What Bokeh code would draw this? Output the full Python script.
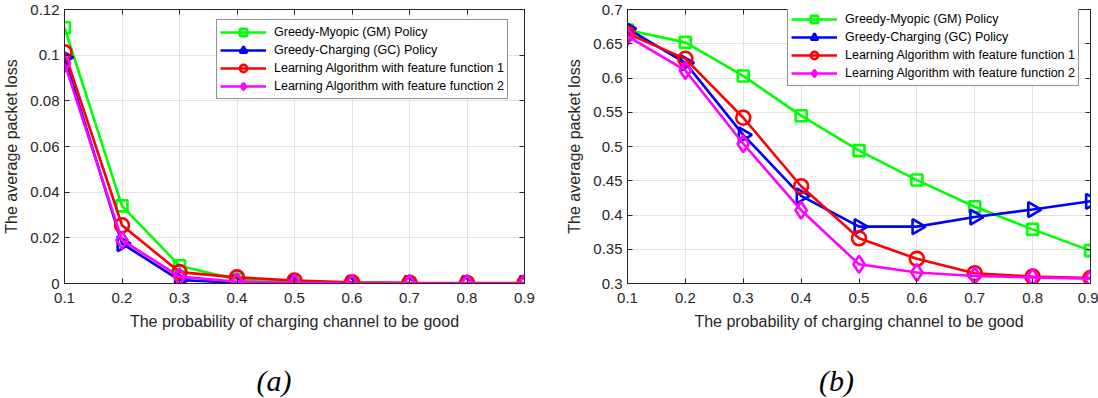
import math
from bokeh.plotting import figure
from bokeh.layouts import row, column
from bokeh.models import LinearAxis, FixedTicker, Legend, LegendItem, Range1d, Label
from bokeh.embed import file_html
from bokeh.resources import INLINE

# ---------------- data ----------------
x_vals = [0.1, 0.2, 0.3, 0.4, 0.5, 0.6, 0.7, 0.8, 0.9]
x_tick_labels = ["0.1", "0.2", "0.3", "0.4", "0.5", "0.6", "0.7", "0.8", "0.9"]

series_names = [
    "Greedy-Myopic (GM) Policy",
    "Greedy-Charging (GC) Policy",
    "Learning Algorithm with feature function 1",
    "Learning Algorithm with feature function 2",
]

# panel (a)
gm_a = [0.112, 0.034, 0.0078, 0.0018, 0.0008, 0.0003, 0.0001, 0.0001, 0.0000]
gc_a = [0.099, 0.0175, 0.0015, 0.0003, 0.0001, 0.0, 0.0, 0.0, 0.0]
la1_a = [0.1013, 0.0255, 0.0050, 0.0027, 0.0013, 0.0005, 0.0003, 0.0002, 0.0002]
la2_a = [0.0965, 0.0190, 0.0030, 0.0008, 0.0003, 0.0001, 0.0, 0.0, 0.0]
y_ticks_a = [0.0, 0.02, 0.04, 0.06, 0.08, 0.10, 0.12]
y_tick_labels_a = ["0", "0.02", "0.04", "0.06", "0.08", "0.1", "0.12"]

# panel (b)
gm_b = [0.670, 0.652, 0.603, 0.545, 0.494, 0.451, 0.412, 0.379, 0.348]
gc_b = [0.672, 0.622, 0.517, 0.428, 0.383, 0.383, 0.397, 0.408, 0.420]
la1_b = [0.665, 0.628, 0.542, 0.442, 0.366, 0.336, 0.315, 0.310, 0.308]
la2_b = [0.661, 0.611, 0.504, 0.407, 0.328, 0.316, 0.311, 0.309, 0.307]
y_ticks_b = [0.3, 0.35, 0.4, 0.45, 0.5, 0.55, 0.6, 0.65, 0.7]
y_tick_labels_b = ["0.3", "0.35", "0.4", "0.45", "0.5", "0.55", "0.6", "0.65", "0.7"]

x_label = "The probability of charging channel to be good"
y_label = "The average packet loss"
captions = ["(a)", "(b)"]

# ---------------- styling ----------------
colors = ["#00ff00", "#0000ff", "#ff0000", "#ff00ff"]
markers = ["square", "triangle", "circle", "diamond"]
marker_sizes = [11, 15, 14, 17]
marker_angles = [0.0, -math.pi / 2, 0.0, 0.0]
AX = "#262626"
FONT = "Liberation Sans"
PLOT_H = 345
CAP_H = 398 - PLOT_H


def style_axis(ax, ticks, labels, show_labels=True):
    ax.ticker = FixedTicker(ticks=ticks)
    ax.major_label_overrides = {t: l for t, l in zip(ticks, labels)}
    ax.axis_line_color = AX
    ax.axis_line_width = 1
    ax.major_tick_line_color = AX
    ax.major_tick_in = 5
    ax.major_tick_out = 0
    ax.minor_tick_line_color = None
    ax.major_label_text_font = FONT
    ax.major_label_text_color = AX
    ax.major_label_text_font_size = "15px" if show_labels else "0px"
    ax.axis_label_text_font = FONT
    ax.axis_label_text_font_style = "normal"
    ax.axis_label_text_color = AX
    ax.axis_label_text_font_size = "16px"


def make_panel(ys, y_range, y_ticks, y_labels, width, mb_left, mb_right,
               mb_top, frame_h, legend_loc):
    p = figure(width=width, height=PLOT_H, output_backend="svg", toolbar_location=None,
               x_range=Range1d(0.1, 0.9), y_range=Range1d(*y_range),
               min_border_left=mb_left, min_border_right=mb_right,
               min_border_top=mb_top, min_border_bottom=PLOT_H - mb_top - frame_h,
               x_axis_label=x_label, y_axis_label=y_label)
    p.outline_line_color = AX
    p.background_fill_color = "white"
    p.border_fill_color = "white"

    style_axis(p.xaxis[0], x_vals, x_tick_labels)
    style_axis(p.yaxis[0], y_ticks, y_labels)
    p.xaxis[0].major_label_standoff = 9
    p.xaxis[0].axis_label_standoff = 7
    p.yaxis[0].major_label_standoff = 5
    p.yaxis[0].axis_label_standoff = 7

    top = LinearAxis()
    right = LinearAxis()
    style_axis(top, x_vals, ["" for _ in x_vals], show_labels=False)
    style_axis(right, y_ticks, ["" for _ in y_ticks], show_labels=False)
    top.major_label_standoff = 0
    right.major_label_standoff = 0
    p.add_layout(top, "above")
    p.add_layout(right, "right")

    p.xgrid.ticker = FixedTicker(ticks=x_vals)
    p.ygrid.ticker = FixedTicker(ticks=y_ticks)
    p.grid.grid_line_color = "#e2e2e2"
    p.grid.grid_line_width = 1

    items = []
    for name, yv, c, m, s, a in zip(series_names, ys, colors, markers, marker_sizes, marker_angles):
        r1 = p.line(x_vals, yv, line_color=c, line_width=2.6)
        r2 = p.scatter(x_vals, yv, marker=m, size=s, angle=a, line_color=c,
                       line_width=2.6, fill_color=None)
        items.append(LegendItem(label=name, renderers=[r1, r2]))

    leg = Legend(items=items, location=legend_loc)
    leg.label_text_font = FONT
    leg.label_text_font_size = "12.5px"
    leg.label_text_color = "#000000"
    leg.border_line_color = AX
    leg.border_line_width = 1
    leg.background_fill_color = "white"
    leg.background_fill_alpha = 1.0
    leg.padding = 3
    leg.spacing = 0
    leg.glyph_width = 46
    leg.glyph_height = 18
    leg.label_height = 18
    leg.label_standoff = 8
    leg.margin = 0
    p.add_layout(leg, "center")
    return p


pa = make_panel([gm_a, gc_a, la1_a, la2_a], (0.0, 0.12), y_ticks_a, y_tick_labels_a,
                width=560, mb_left=62, mb_right=36, mb_top=9, frame_h=274,
                legend_loc=(152, 184))
pb = make_panel([gm_b, gc_b, la1_b, la2_b], (0.3, 0.7), y_ticks_b, y_tick_labels_b,
                width=538, mb_left=67, mb_right=8, mb_top=8, frame_h=277,
                legend_loc=(160, 197))

# caption strip (pixel-sized ranges so captions sit under each panel)
cap = figure(width=1098, height=CAP_H, output_backend="svg", toolbar_location=None,
             x_range=Range1d(0, 1098), y_range=Range1d(0, CAP_H),
             x_axis_type=None, y_axis_type=None, min_border=0)
cap.outline_line_color = None
cap.grid.visible = False
cap.background_fill_color = "white"
cap.border_fill_color = "white"
for txt, cx in zip(captions, [273.5, 836]):
    cap.add_layout(Label(x=cx, y=CAP_H - (380 - PLOT_H), text=txt,
                         text_font="Liberation Serif", text_font_style="italic",
                         text_font_size="30px", text_color="#000000",
                         text_align="center", text_baseline="middle"))

layout = column(row(pa, pb, spacing=0), cap, spacing=0)
open("out.html", "w").write(file_html(layout, INLINE))
